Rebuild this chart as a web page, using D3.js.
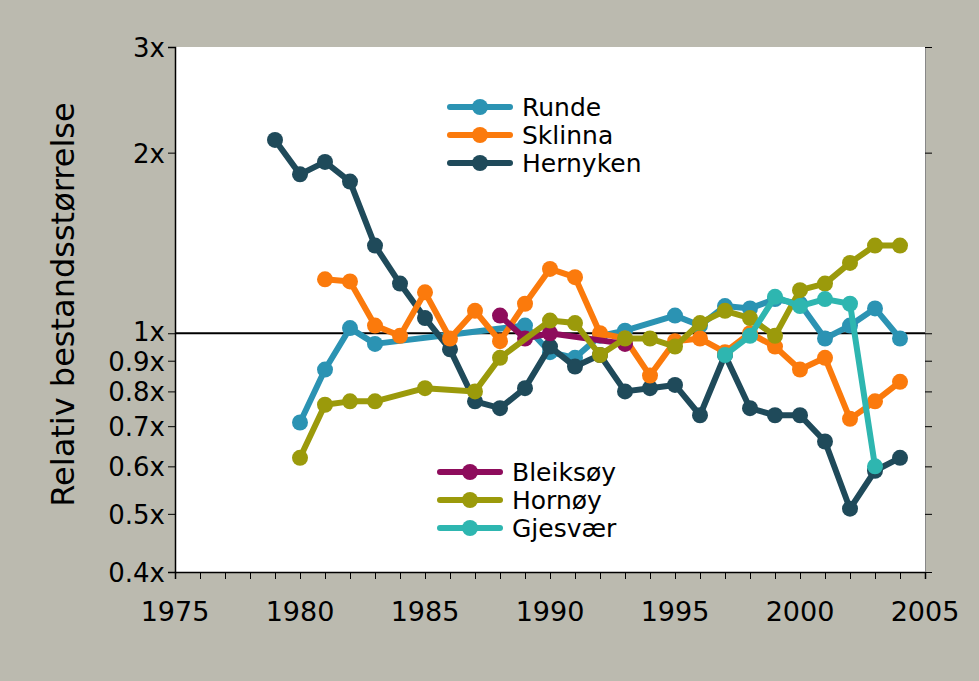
<!DOCTYPE html>
<html>
<head>
<meta charset="utf-8">
<script src="https://cdn.jsdelivr.net/npm/d3@7"></script>
<style>
  body { margin: 0; background: #bbbaaf; }
  svg { display: block; font-family: "DejaVu Sans", Verdana, sans-serif; }
</style>
</head>
<body>
<div class="chart"></div>
<script>
const W = 979, H = 681;
const margin = { left: 175, right: 54, top: 47, bottom: 109 };

// data
const years = d3.range(1975, 2006);
const yTicks = [0.4, 0.5, 0.6, 0.7, 0.8, 0.9, 1, 2, 3];
const xTicks = [1975, 1980, 1985, 1990, 1995, 2000, 2005];

const rundeYears = [1980, 1981, 1982, 1983, 1989, 1990, 1991, 1992, 1993, 1995, 1996, 1997, 1998, 1999, 2000, 2001, 2002, 2003, 2004];
const rundeValues = [0.71, 0.87, 1.02, 0.96, 1.03, 0.93, 0.91, 0.99, 1.01, 1.07, 1.03, 1.11, 1.10, 1.14, 1.12, 0.98, 1.03, 1.10, 0.98];

const sklinnaYears = [1981, 1982, 1983, 1984, 1985, 1986, 1987, 1988, 1989, 1990, 1991, 1992, 1993, 1994, 1995, 1996, 1997, 1998, 1999, 2000, 2001, 2002, 2003, 2004];
const sklinnaValues = [1.23, 1.22, 1.03, 0.99, 1.17, 0.98, 1.09, 0.97, 1.12, 1.28, 1.24, 1.00, 0.98, 0.85, 0.97, 0.98, 0.93, 1.00, 0.95, 0.87, 0.91, 0.72, 0.77, 0.83];

const hernykenYears = [1979, 1980, 1981, 1982, 1983, 1984, 1985, 1986, 1987, 1988, 1989, 1990, 1991, 1992, 1993, 1994, 1995, 1996, 1997, 1998, 1999, 2000, 2001, 2002, 2003, 2004];
const hernykenValues = [2.10, 1.84, 1.93, 1.79, 1.40, 1.21, 1.06, 0.94, 0.77, 0.75, 0.81, 0.95, 0.88, 0.92, 0.80, 0.81, 0.82, 0.73, 0.92, 0.75, 0.73, 0.73, 0.66, 0.51, 0.59, 0.62];

const bleiksoyYears = [1988, 1989, 1990, 1993];
const bleiksoyValues = [1.07, 0.98, 1.00, 0.96];

const hornoyYears = [1980, 1981, 1982, 1983, 1985, 1987, 1988, 1990, 1991, 1992, 1993, 1994, 1995, 1996, 1997, 1998, 1999, 2000, 2001, 2002, 2003, 2004];
const hornoyValues = [0.62, 0.76, 0.77, 0.77, 0.81, 0.80, 0.91, 1.05, 1.04, 0.92, 0.98, 0.98, 0.95, 1.04, 1.09, 1.06, 0.99, 1.18, 1.21, 1.31, 1.40, 1.40];

const gjesvaerYears = [1997, 1998, 1999, 2000, 2001, 2002, 2003];
const gjesvaerValues = [0.92, 0.99, 1.15, 1.11, 1.14, 1.12, 0.60];

const series = [
    { name: 'Runde', color: '#2b93b3', years: rundeYears, values: rundeValues },
    { name: 'Hernyken', color: '#1f4a5a', years: hernykenYears, values: hernykenValues },
    { name: 'Sklinna', color: '#fb7a0c', years: sklinnaYears, values: sklinnaValues },
    { name: 'Bleiksøy', color: '#8e0c5c', years: bleiksoyYears, values: bleiksoyValues },
    { name: 'Hornøy', color: '#9b9a0b', years: hornoyYears, values: hornoyValues },
    { name: 'Gjesvær', color: '#2eb6b0', years: gjesvaerYears, values: gjesvaerValues }
];

const legendTop = ['Runde', 'Sklinna', 'Hernyken'];
const legendBottom = ['Bleiksøy', 'Hornøy', 'Gjesvær'];

const svg = d3.select('.chart')
    .append('svg')
    .attr('width', W)
    .attr('height', H);

svg.append('rect')
    .attr('width', W)
    .attr('height', H)
    .attr('fill', '#bbbaaf');

const x = d3.scaleLinear()
    .domain([1975, 2005])
    .range([margin.left, W - margin.right]);

const y = d3.scaleLog()
    .domain([0.4, 3])
    .range([H - margin.bottom, margin.top]);

// plot area
svg.append('rect')
    .attr('x', x(1975))
    .attr('y', y(3))
    .attr('width', x(2005) - x(1975))
    .attr('height', y(0.4) - y(3))
    .attr('fill', '#fff');

// x axis
const xAxis = svg.append('g')
    .attr('transform', `translate(0,${y(0.4)})`)
    .call(d3.axisBottom(x).tickValues(years).tickSize(7).tickFormat(''));
xAxis.select('.domain').attr('stroke-width', 1.5);

svg.selectAll('.xlab')
    .data(xTicks)
    .enter()
    .append('text')
    .attr('class', 'xlab')
    .attr('x', d => x(d))
    .attr('y', 621)
    .attr('text-anchor', 'middle')
    .attr('font-size', 27)
    .text(d => d);

// y axis
const yAxis = svg.append('g')
    .attr('transform', `translate(${x(1975)},0)`)
    .call(d3.axisLeft(y).tickValues(yTicks).tickSize(7).tickFormat(''));
yAxis.select('.domain').attr('stroke-width', 1.5);

svg.append('g')
    .attr('transform', `translate(${x(2005)},0)`)
    .call(d3.axisLeft(y).tickValues(yTicks).tickSize(-7).tickFormat(''))
    .select('.domain').attr('stroke', '#888').attr('stroke-width', 1);

svg.selectAll('.ylab')
    .data(yTicks)
    .enter()
    .append('text')
    .attr('class', 'ylab')
    .attr('x', 165)
    .attr('y', d => y(d) + (d === 1 ? 8 : 10))
    .attr('text-anchor', 'end')
    .attr('font-size', 26)
    .text(d => d + 'x');

svg.append('text')
    .attr('transform', `translate(74,${(y(3) + y(0.4)) / 2 - 5}) rotate(-90)`)
    .attr('text-anchor', 'middle')
    .attr('font-size', 32)
    .text('Relativ bestandsstørrelse');

// reference line at 1x
svg.append('line')
    .attr('x1', x(1975))
    .attr('x2', x(2005))
    .attr('y1', y(1))
    .attr('y2', y(1))
    .attr('stroke', '#000')
    .attr('stroke-width', 2);

const line = d3.line()
    .x(d => x(d[0]))
    .y(d => y(d[1]));

series.forEach(s => {
    const pts = s.years.map((yr, i) => [yr, s.values[i]]);
    const g = svg.append('g');
    g.append('path')
        .datum(pts)
        .attr('d', line)
        .attr('fill', 'none')
        .attr('stroke', s.color)
        .attr('stroke-width', 6)
        .attr('stroke-linejoin', 'round');
    g.selectAll('circle')
        .data(pts)
        .enter()
        .append('circle')
        .attr('cx', d => x(d[0]))
        .attr('cy', d => y(d[1]))
        .attr('r', 8)
        .attr('fill', s.color);
});

// legends
function legend(names, lx, ly) {
    const g = svg.append('g');
    names.forEach((n, i) => {
        const s = series.find(d => d.name === n);
        const yy = ly + i * 28;
        g.append('line')
            .attr('x1', lx)
            .attr('x2', lx + 60)
            .attr('y1', yy)
            .attr('y2', yy)
            .attr('stroke', s.color)
            .attr('stroke-width', 6)
            .attr('stroke-linecap', 'round');
        g.append('circle')
            .attr('cx', lx + 30)
            .attr('cy', yy)
            .attr('r', 8)
            .attr('fill', s.color);
        g.append('text')
            .attr('x', lx + 72)
            .attr('y', yy + 9)
            .attr('font-size', 25)
            .text(n);
    });
}
legend(legendTop, 450, 107);
legend(legendBottom, 440, 472);
</script>
</body>
</html>
